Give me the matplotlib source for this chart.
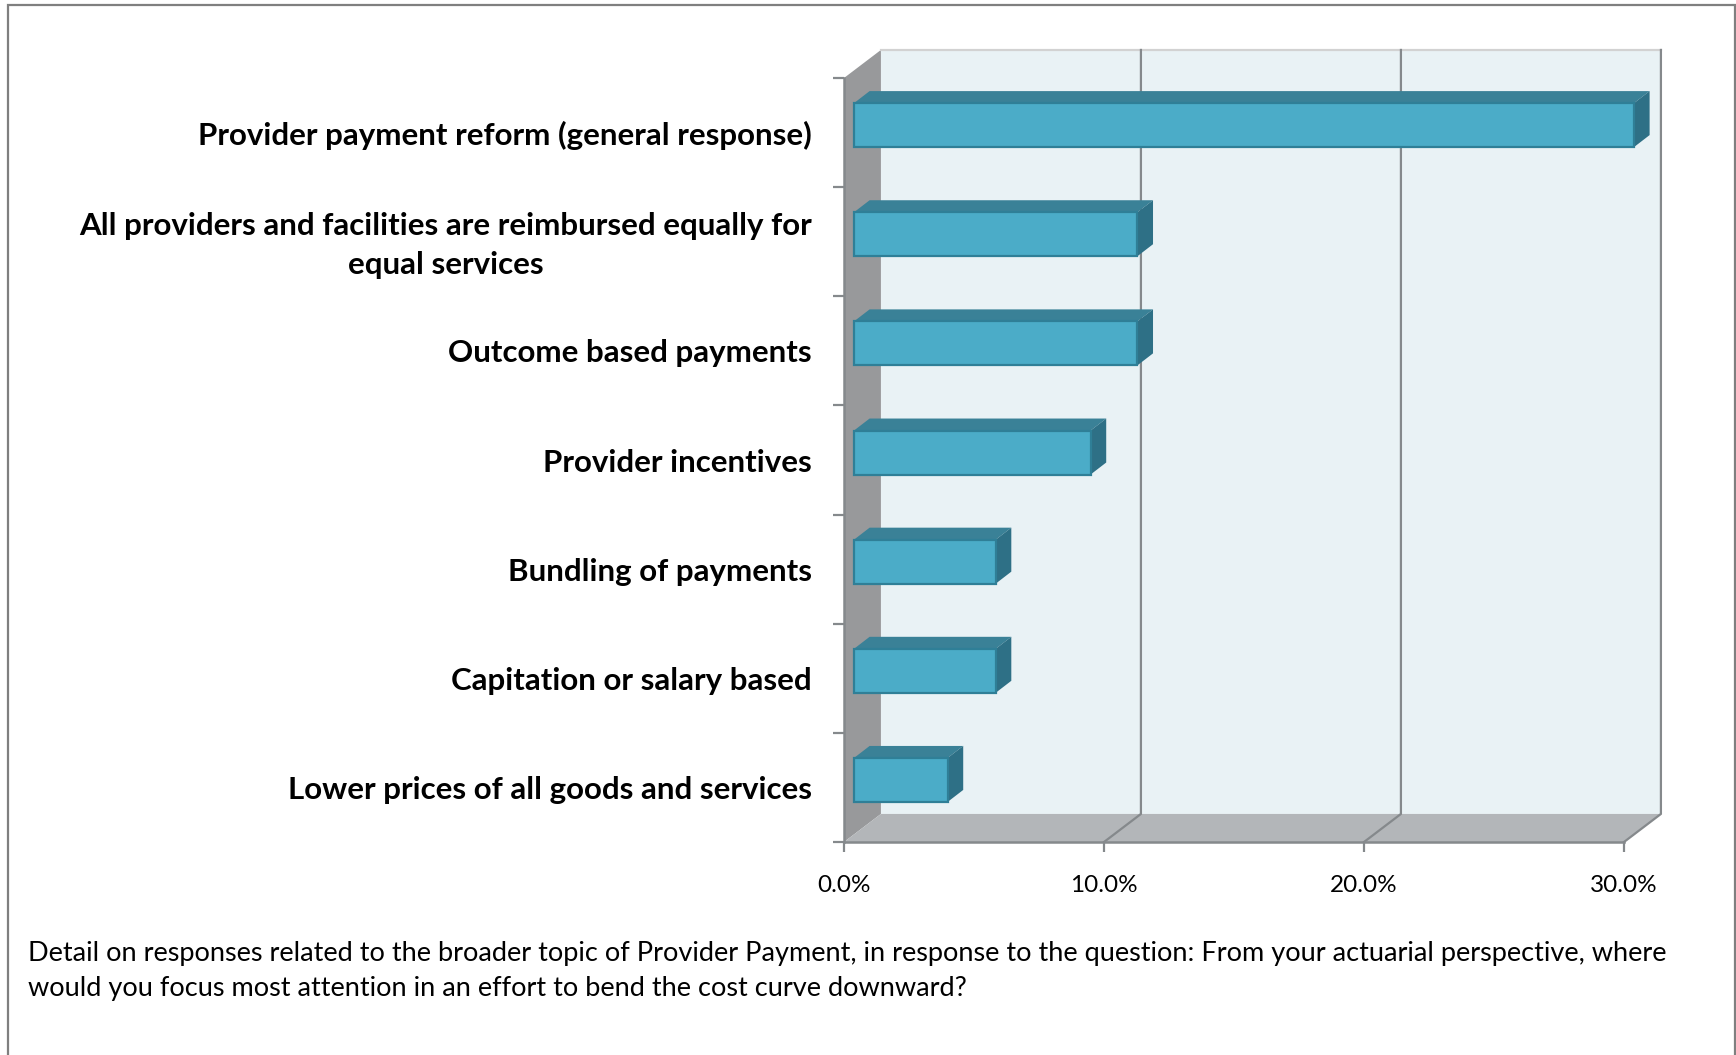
import matplotlib
matplotlib.use('Agg')
import matplotlib.pyplot as plt
from matplotlib.patches import Polygon, Rectangle

categories = [
    'Provider payment reform (general response)',
    'All providers and facilities are reimbursed equally for\nequal services',
    'Outcome based payments',
    'Provider incentives',
    'Bundling of payments',
    'Capitation or salary based',
    'Lower prices of all goods and services',
]
values = [30.0, 10.9, 10.9, 9.1, 5.45, 5.45, 3.6]
x_ticks = [0, 10, 20, 30]
x_tick_labels = ['0.0%', '10.0%', '20.0%', '30.0%']
caption = ('Detail on responses related to the broader topic of Provider Payment, in response to the question: '
           'From your actuarial perspective, where\n'
           'would you focus most attention in an effort to bend the cost curve downward?')

W, H = 1736, 1055
plt.rcParams['font.family'] = ['Lato', 'DejaVu Sans']

fig = plt.figure(figsize=(W / 100, H / 100), dpi=100)
# axes box is the front plane of the fake 3d chart
left, right, top, bottom = 844, 1624, 78, 842
ax = fig.add_axes([left / W, 1 - bottom / H, (right - left) / W, (bottom - top) / H])
ax.set_xlim(0, 30)
ax.set_ylim(len(categories), 0)
ax.patch.set_visible(False)

# depth of the walls and bars, in data units
DX, DY = 1.42, 0.257
BAR_X, BAR_Y, BAR_H = 0.385, 0.23, 0.403
BAR_DX, BAR_DY = 0.6, 0.11
n = len(categories)


def poly(pts, fc, ec='none', lw=0, z=1):
    ax.add_patch(Polygon(pts, closed=True, fc=fc, ec=ec, lw=lw, zorder=z, clip_on=False))


# walls
poly([(DX, -DY), (30 + DX, -DY), (30 + DX, n - DY), (DX, n - DY)], '#e9f2f5')
poly([(0, 0), (DX, -DY), (DX, n - DY), (0, n)], '#98999b')
poly([(0, n), (DX, n - DY), (30 + DX, n - DY), (30, n)], '#b3b6b9')
ax.plot([DX, 30 + DX], [-DY, -DY], color='#d2d2d2', lw=1.6, zorder=1.5, clip_on=False)

for t in x_ticks[1:]:
    ax.plot([t, t + DX, t + DX], [n, n - DY, -DY], color='#85898c', lw=1.6, zorder=1.6, clip_on=False)

# bars, front face plus top and side faces
for i, v in enumerate(values):
    x0 = BAR_X
    x1 = BAR_X + v
    y0 = i + BAR_Y
    y1 = y0 + BAR_H
    poly([(x0, y0), (x0 + BAR_DX, y0 - BAR_DY), (x1 + BAR_DX, y0 - BAR_DY), (x1, y0)], '#3a8197', z=2)
    poly([(x1, y0), (x1 + BAR_DX, y0 - BAR_DY), (x1 + BAR_DX, y1 - BAR_DY), (x1, y1)], '#2e7086', z=2)
    ax.barh(i + BAR_Y + BAR_H / 2, v, height=BAR_H, left=x0, color='#4bacc8', edgecolor='#2f7f97',
            linewidth=1.6, zorder=3, clip_on=False)

# axes lines and ticks
for s in ['top', 'right']:
    ax.spines[s].set_visible(False)
for s in ['left', 'bottom']:
    ax.spines[s].set_color('#85898c')
    ax.spines[s].set_linewidth(1.8)
    ax.spines[s].set_zorder(4)

ax.set_xticks(x_ticks)
ax.set_xticklabels(x_tick_labels, fontsize=17.5, color='black')
ax.tick_params(axis='x', length=7, width=1.6, color='#85898c', pad=17)
ax.set_yticks(range(n + 1))
ax.set_yticklabels([])
ax.tick_params(axis='y', length=8, width=1.6, color='#85898c')
# two line label sits a bit above its band centre
label_pos = [i + 0.5 for i in range(n)]
label_pos[1] -= 0.035
ax.set_yticks(label_pos, minor=True)
ax.set_yticklabels(categories, minor=True, fontsize=22.5, fontweight='bold', color='black',
                   multialignment='center', linespacing=1.48)
ax.tick_params(axis='y', which='minor', length=0, pad=23)

fig.text(27.5 / W, 1 - 941 / H, caption, fontsize=19.55, color='black', va='top', ha='left', linespacing=1.48)

# outer frame of the slide, bottom runs off the picture
fig.add_artist(Rectangle((8 / W, -0.01), (1735 - 8) / W, 1.01 - 5 / H, transform=fig.transFigure,
                         fc='none', ec='#7f7f7f', lw=1.6))

fig.savefig('out.png', dpi=100)
